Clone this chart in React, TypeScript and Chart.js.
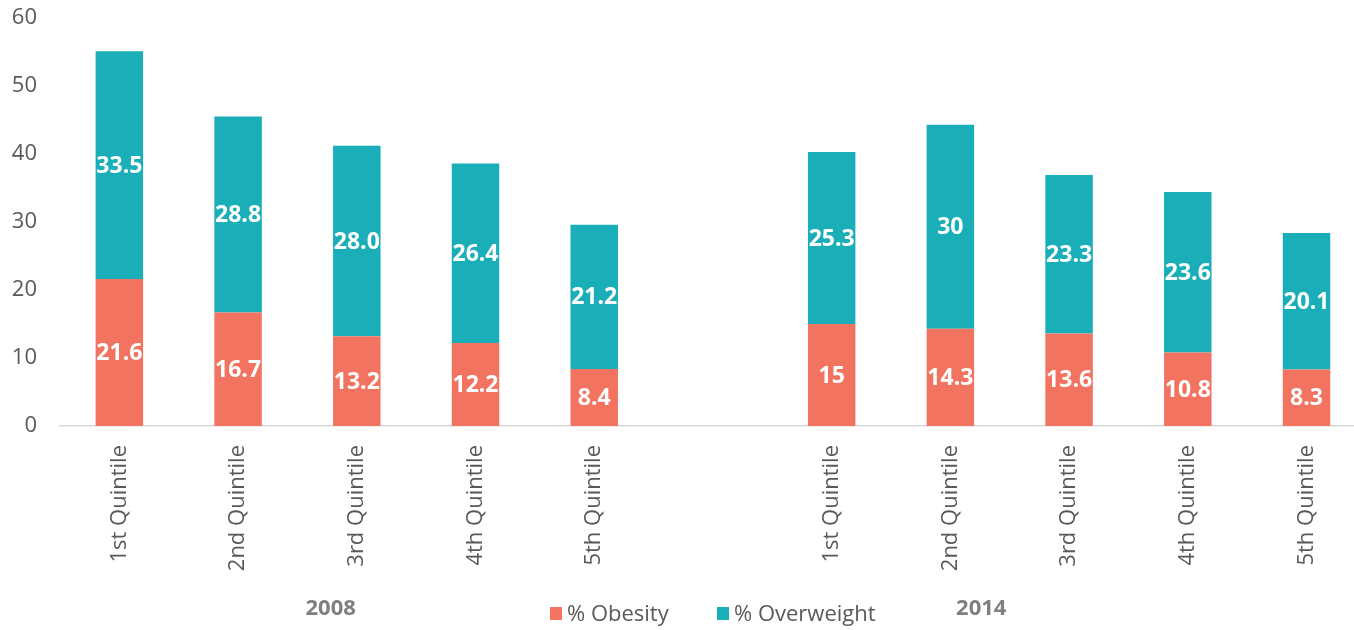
import React, { useEffect, useRef } from "react";
import { Chart, registerables } from "chart.js";
Chart.register(...registerables);

const categories = [
  "1st Quintile", "2nd Quintile", "3rd Quintile", "4th Quintile", "5th Quintile",
  "",
  "1st Quintile", "2nd Quintile", "3rd Quintile", "4th Quintile", "5th Quintile",
];
const obesity = [21.6, 16.7, 13.2, 12.2, 8.4, null, 15, 14.3, 13.6, 10.8, 8.3];
const overweight = [33.5, 28.8, 28.0, 26.4, 21.2, null, 25.3, 30, 23.3, 23.6, 20.1];
const obesityLabels = ["21.6", "16.7", "13.2", "12.2", "8.4", "", "15", "14.3", "13.6", "10.8", "8.3"];
const overweightLabels = ["33.5", "28.8", "28.0", "26.4", "21.2", "", "25.3", "30", "23.3", "23.6", "20.1"];
const yTicks = [0, 10, 20, 30, 40, 50, 60];
const years = ["2008", "2014"];
const seriesNames = ["% Obesity", "% Overweight"];

const RED = "#F17360";
const TEAL = "#1AAFB8";
const GRAY = "#595959";
const FONT = "'Open Sans', 'Liberation Sans', sans-serif";

const W = 1354;
const H = 630;

const valueLabelPlugin = {
  id: "valueLabels",
  afterDatasetsDraw(chart: any) {
    const ctx = chart.ctx;
    const labelSets = [obesityLabels, overweightLabels];
    ctx.save();
    ctx.fillStyle = "#ffffff";
    ctx.font = `bold 23px ${FONT}`;
    ctx.textAlign = "center";
    ctx.textBaseline = "middle";
    chart.data.datasets.forEach((ds: any, di: number) => {
      const meta = chart.getDatasetMeta(di);
      meta.data.forEach((el: any, i: number) => {
        const raw = ds.data[i];
        if (!raw || raw.y == null) return;
        const idx = raw.x;
        const txt = labelSets[di][idx];
        if (!txt) return;
        ctx.fillText(txt, el.x, (el.y + el.base) / 2 + 1);
      });
    });
    ctx.restore();
  },
};

const footerPlugin = {
  id: "footer",
  afterDraw(chart: any) {
    const ctx = chart.ctx;
    const x = chart.scales.x;
    ctx.save();
    // group (year) labels
    ctx.font = `bold 22px ${FONT}`;
    ctx.fillStyle = "#7F7F7F";
    ctx.textAlign = "center";
    ctx.textBaseline = "middle";
    ctx.fillText(years[0], x.getPixelForValue(1.78), 609);
    ctx.fillText(years[1], x.getPixelForValue(7.26), 609);
    // legend
    const colors = [RED, TEAL];
    const starts = [550, 717];
    ctx.font = `22px ${FONT}`;
    ctx.textAlign = "left";
    seriesNames.forEach((name, i) => {
      ctx.fillStyle = colors[i];
      ctx.fillRect(starts[i], 607, 12, 13);
      ctx.fillStyle = GRAY;
      ctx.fillText(name, starts[i] + 17, 615);
    });
    ctx.restore();
  },
};

export default function App() {
  const ref = useRef<HTMLCanvasElement | null>(null);
  useEffect(() => {
    if (!ref.current) return;
    const toPoints = (arr: (number | null)[]) =>
      arr.map((v, i) => ({ x: i, y: v })).filter((p) => p.y != null);
    const chart = new Chart(ref.current, {
      type: "bar",
      data: {
        datasets: [
          {
            label: seriesNames[0],
            data: toPoints(obesity) as any,
            backgroundColor: RED,
            borderWidth: 0,
            barPercentage: 0.4,
            categoryPercentage: 1,
          },
          {
            label: seriesNames[1],
            data: toPoints(overweight) as any,
            backgroundColor: TEAL,
            borderWidth: 0,
            barPercentage: 0.4,
            categoryPercentage: 1,
          },
        ],
      },
      options: {
        responsive: false,
        animation: false,
        maintainAspectRatio: false,
        layout: { padding: { top: 18, right: 0, left: 0, bottom: 0 } },
        plugins: {
          legend: { display: false },
          tooltip: { enabled: false },
          title: { display: false },
        },
        scales: {
          x: {
            type: "linear",
            stacked: true,
            min: -0.5,
            max: 10.4,
            offset: false,
            grid: { display: false, drawTicks: false },
            border: { display: true, color: "#D9D9D9", width: 1.5 },
            afterBuildTicks: (scale: any) => {
              scale.ticks = categories.map((_, i) => ({ value: i }));
            },
            afterFit: (scale: any) => {
              scale.height = 204;
              scale.paddingLeft = 0;
              scale.paddingRight = 0;
            },
            ticks: {
              autoSkip: false,
              minRotation: 90,
              maxRotation: 90,
              padding: 19,
              color: GRAY,
              font: { family: FONT, size: 22 },
              callback: (v: any) => categories[v] ?? "",
            },
          },
          y: {
            stacked: true,
            min: 0,
            max: 60,
            grid: { display: false, drawTicks: false },
            border: { display: false },
            afterBuildTicks: (scale: any) => {
              scale.ticks = yTicks.map((v) => ({ value: v }));
            },
            afterFit: (scale: any) => {
              scale.width = 60;
              scale.paddingTop = 0;
              scale.paddingBottom = 0;
            },
            ticks: {
              padding: 23,
              color: GRAY,
              font: { family: FONT, size: 22 },
            },
          },
        },
      } as any,
      plugins: [valueLabelPlugin, footerPlugin],
    });
    return () => chart.destroy();
  }, []);
  return (
    <div style={{ position: "fixed", left: 0, top: 0, width: W, height: H, background: "#fff" }}>
      <canvas ref={ref} width={W} height={H} style={{ width: W, height: H, display: "block" }} />
    </div>
  );
}
